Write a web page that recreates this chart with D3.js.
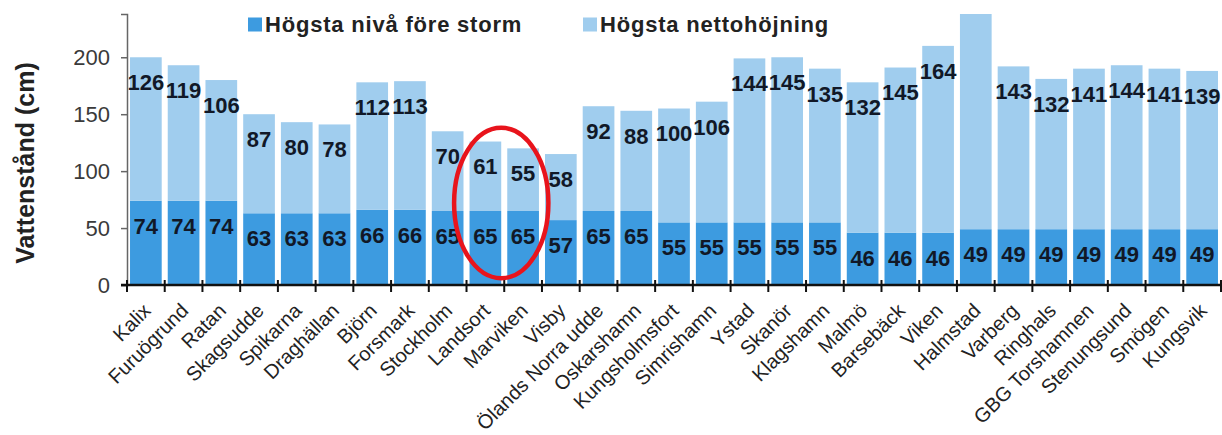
<!DOCTYPE html>
<html>
<head>
<meta charset="utf-8">
<script src="https://cdn.jsdelivr.net/npm/d3@7"></script>
<style>
  body { margin: 0; background: #fff; }
  svg { font-family: "Liberation Sans", Arial, sans-serif; }
</style>
</head>
<body>
<svg class="chart" width="1222" height="435"></svg>
<script>

// Stations along the coast.
var stations = ["Kalix", "Furuögrund", "Ratan", "Skagsudde", "Spikarna", "Draghällan",
  "Björn", "Forsmark", "Stockholm", "Landsort", "Marviken", "Visby", "Ölands Norra udde",
  "Oskarshamn", "Kungsholmsfort", "Simrishamn", "Ystad", "Skanör", "Klagshamn", "Malmö",
  "Barsebäck", "Viken", "Halmstad", "Varberg", "Ringhals", "GBG Torshamnen",
  "Stenungsund", "Smögen", "Kungsvik"];

// Högsta nivå före storm (cm).
var baseLevel = [74, 74, 74, 63, 63, 63, 66, 66, 65, 65, 65, 57, 65, 65, 55, 55, 55, 55,
  55, 46, 46, 46, 49, 49, 49, 49, 49, 49, 49];

// Högsta nettohöjning (cm). Halmstad runs off the top of the chart, estimated.
var netRise = [126, 119, 106, 87, 80, 78, 112, 113, 70, 61, 55, 58, 92, 88, 100, 106,
  144, 145, 135, 132, 145, 164, 225, 143, 132, 141, 144, 141, 139];

var yTicks = [0, 50, 100, 150, 200];
var seriesNames = ["Högsta nivå före storm", "Högsta nettohöjning"];
var highlighted = ["Landsort", "Marviken"];

var colors = ["#3d9be0", "#a0cdee"];

var margin = {top: 14, right: 1, bottom: 150, left: 127},
    width = 1222 - margin.left - margin.right,
    height = 435 - margin.top - margin.bottom;

var svg = d3.select(".chart");
var chart = svg.append("g")
    .attr("transform", "translate(" + margin.left + "," + margin.top + ")");

var x = d3.scaleBand()
    .domain(stations)
    .range([0, width])
    .paddingInner(0.16)
    .paddingOuter(0.08);

var y = d3.scaleLinear()
    .domain([0, 238])
    .range([height, 0]);

// Clip the top so Halmstad is cut off.
svg.append("defs").append("clipPath")
    .attr("id", "plotclip")
  .append("rect")
    .attr("x", -20).attr("y", 0)
    .attr("width", width + 60).attr("height", height);

var rows = stations.map(function(s, i) {
  return {station: s, base: baseLevel[i], net: netRise[i]};
});

var plot = chart.append("g").attr("clip-path", "url(#plotclip)");

// Base bars.
plot.selectAll(".base")
    .data(rows)
  .enter().append("rect")
    .attr("class", "base")
    .attr("x", function(d) { return x(d.station); })
    .attr("width", x.bandwidth())
    .attr("y", function(d) { return y(d.base); })
    .attr("height", function(d) { return y(0) - y(d.base); })
    .attr("fill", colors[0]);

// Net rise bars stacked on top.
plot.selectAll(".net")
    .data(rows)
  .enter().append("rect")
    .attr("class", "net")
    .attr("x", function(d) { return x(d.station); })
    .attr("width", x.bandwidth())
    .attr("y", function(d) { return y(d.base + d.net); })
    .attr("height", function(d) { return y(d.base) - y(d.base + d.net); })
    .attr("fill", colors[1]);

// Value labels, just under the top of each segment (none if off the chart).
function drawLabels(cls, top, value) {
  plot.selectAll("." + cls)
      .data(rows.filter(function(d) { return y(top(d)) + 13 > 0; }))
    .enter().append("text")
      .attr("class", cls)
      .attr("x", function(d) { return x(d.station) + x.bandwidth() / 2; })
      .attr("y", function(d) { return y(top(d)) + 25; })
      .attr("dy", "0.36em")
      .attr("text-anchor", "middle")
      .style("font-size", "22px")
      .style("font-weight", "bold")
      .attr("fill", "#111827")
      .text(value);
}
drawLabels("lbase", function(d) { return d.base; }, function(d) { return d.base; });
drawLabels("lnet", function(d) { return d.base + d.net; }, function(d) { return d.net; });

// Y axis.
var yAxis = chart.append("g")
    .attr("class", "y axis")
    .call(d3.axisLeft(y).tickValues(yTicks).tickSize(6).tickPadding(11));
yAxis.select(".domain").attr("stroke", "#666").attr("stroke-width", 1.5);
yAxis.selectAll(".tick line").attr("stroke", "#666").attr("stroke-width", 1.5);
yAxis.selectAll(".tick text")
    .attr("fill", "#3a3a3a")
    .style("font-size", "22px");

chart.append("text")
    .attr("transform", "rotate(-90)")
    .attr("x", -(y(0) - 122))
    .attr("y", -102)
    .attr("dy", "0.35em")
    .attr("text-anchor", "middle")
    .style("font-size", "25px")
    .style("font-weight", "bold")
    .attr("fill", "#222")
    .text("Vattenstånd (cm)");

// X axis with ticks between the bars.
var xAxis = chart.append("g")
    .attr("class", "x axis")
    .attr("transform", "translate(0," + height + ")");
xAxis.append("line")
    .attr("x1", -6).attr("x2", width + 2)
    .attr("stroke", "#111").attr("stroke-width", 2.5);
xAxis.selectAll(".sep")
    .data(stations.concat(["end"]))
  .enter().append("line")
    .attr("class", "sep")
    .attr("x1", function(d, i) { return i * x.step(); })
    .attr("x2", function(d, i) { return i * x.step(); })
    .attr("y1", -5).attr("y2", 7)
    .attr("stroke", "#111").attr("stroke-width", 2);
xAxis.selectAll(".xlabel")
    .data(stations)
  .enter().append("text")
    .attr("class", "xlabel")
    .attr("transform", function(d) {
      return "translate(" + (x(d) + x.bandwidth() / 2 + 6) + ",27) rotate(-45)";
    })
    .attr("text-anchor", "end")
    .style("font-size", "20px")
    .attr("fill", "#222")
    .text(function(d) { return d; });

// Legend.
var legend = svg.append("g").attr("class", "legend");
var legendX = [248, 583];
seriesNames.forEach(function(name, i) {
  legend.append("rect")
      .attr("x", legendX[i]).attr("y", 17.5)
      .attr("width", 14).attr("height", 14)
      .attr("fill", colors[i]);
  legend.append("text")
      .attr("x", legendX[i] + 17).attr("y", 31.5)
      .style("font-size", "22px")
      .style("font-weight", "bold")
      .style("letter-spacing", "0.8px")
      .attr("fill", "#222")
      .text(name);
});

// Red ring round Landsort and Marviken.
var ringX = x(highlighted[1]) - x.step() * x.paddingInner() / 2;
chart.append("ellipse")
    .attr("cx", ringX - 3)
    .attr("cy", y(72))
    .attr("rx", x.step() * 1.25)
    .attr("ry", y(0) - y(66))
    .attr("fill", "none")
    .attr("stroke", "#e8141c")
    .attr("stroke-width", 4.5);

</script>
</body>
</html>
